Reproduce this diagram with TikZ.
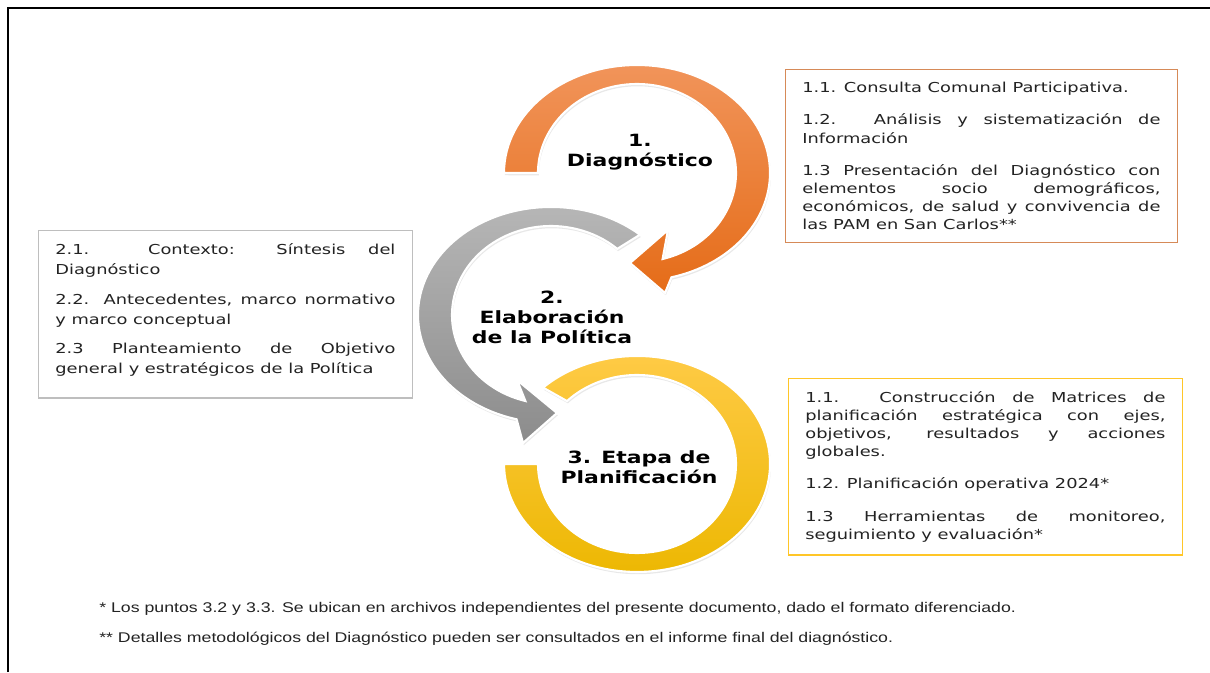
\documentclass[tikz,border=0pt]{standalone}
\usepackage{fontspec}
\usepackage{tikz}
\usetikzlibrary{shadows}

\newfontfamily\boxfont[FakeStretch=1.3]{DejaVu Sans}
\newfontfamily\notefont[FakeStretch=1.26]{Liberation Sans}

\definecolor{orangetop}{RGB}{241,148,90}
\definecolor{orangebot}{RGB}{229,108,24}
\definecolor{graytop}{RGB}{184,184,184}
\definecolor{graybot}{RGB}{140,140,140}
\definecolor{yellowtop}{RGB}{255,203,72}
\definecolor{yellowbot}{RGB}{236,183,0}
\definecolor{boxorange}{RGB}{214,138,88}
\definecolor{boxgray}{RGB}{190,190,190}
\definecolor{boxyellow}{RGB}{255,198,40}
\definecolor{txt}{RGB}{35,35,35}

\begin{document}
\begin{tikzpicture}[x=0.025cm,y=0.025cm,
  ringpart/.style={draw=white, line width=1.5pt,
    drop shadow={opacity=0.18, shadow xshift=0.6pt, shadow yshift=-1.6pt}},
  infobox/.style={draw, line width=0.8pt, anchor=north west, align=justify,
    inner xsep=0.42cm, inner ysep=0.32cm, text=txt,
    font=\boxfont\fontsize{9.75}{12.9}\selectfont\setlength{\parindent}{0pt}\setlength{\parskip}{10pt}},
  ringlabel/.style={align=center, font=\boxfont\bfseries\fontsize{12}{14.2}\selectfont},
  note/.style={anchor=west, inner sep=0pt, text=txt, font=\notefont\fontsize{10}{12}\selectfont}]
\useasboundingbox (0,0) rectangle (1210,672);
\fill[white] (0,0) rectangle (1210,672);
\draw[line width=1.2pt] (8,0) -- (8,664) -- (1210,664);

% yellow ring
\filldraw[ringpart, top color=yellowtop, bottom color=yellowbot]
  (543,284.4) arc[start angle=135, end angle=-180, x radius=133, y radius=108]
  -- (538,208) arc[start angle=-180, end angle=135, x radius=99, y radius=89] -- cycle;

% gray arrow
\filldraw[ringpart, top color=graytop, bottom color=graybot]
  (640,437.3) arc[start angle=48, end angle=255, x radius=133, y radius=108]
  -- (523,229) -- (557,259) -- (517,292) -- (525.4,271)
  arc[start angle=255, end angle=48, x radius=99, y radius=89] -- cycle;

% orange arrow
\filldraw[ringpart, top color=orangetop, bottom color=orangebot]
  (504,499) arc[start angle=180, end angle=-75, x radius=133, y radius=108]
  -- (665,379) -- (630,409) -- (668,442) -- (662.6,413)
  arc[start angle=-75, end angle=180, x radius=99, y radius=89] -- cycle;

\node[ringlabel] (diag) at (640,520) {1.\\Diagnóstico};
\node[ringlabel] (elab) at (552,355) {2.\\Elaboración\\de la Política};
\node[ringlabel] (plan) at (639,204.5) {3. Etapa de\\Planificación};

\node[infobox, draw=boxorange, text width=8.95cm] (diagbox) at (785,603)
  {1.1. Consulta Comunal Participativa.\par
   1.2. Análisis y sistematización de\linebreak Información\par
   1.3 Presentación del Diagnóstico con\linebreak elementos socio demográficos,\linebreak
   económicos, de salud y convivencia de\linebreak las PAM en San Carlos**};

\node[infobox, draw=boxgray, text width=8.5cm,
  font=\boxfont\fontsize{9.75}{14.2}\selectfont\setlength{\parindent}{0pt}\setlength{\parskip}{7pt}] (elabbox) at (38,442)
  {2.1. Contexto: Síntesis del\linebreak Diagnóstico\par
   2.2. Antecedentes, marco normativo\linebreak y marco conceptual\par
   2.3 Planteamiento de Objetivo\linebreak general y estratégicos de la Política\par\vspace*{6pt}};

\node[infobox, draw=boxyellow, text width=9cm] (planbox) at (788,294)
  {1.1. Construcción de Matrices de\linebreak planificación estratégica con ejes,\linebreak
   objetivos, resultados y acciones\linebreak globales.\par
   1.2. Planificación operativa 2024*\par
   1.3 Herramientas de monitoreo,\linebreak seguimiento y evaluación*};

\node[note] (note1) at (99,63) {* Los puntos 3.2 y 3.3. Se ubican en archivos independientes del presente documento, dado el formato diferenciado.};
\node[note] (note2) at (99,33) {** Detalles metodológicos del Diagnóstico pueden ser consultados en el informe final del diagnóstico.};

\end{tikzpicture}
\end{document}
